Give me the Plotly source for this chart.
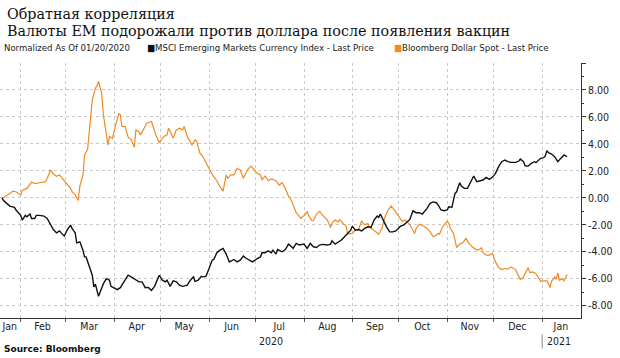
import datetime as dt
import plotly.graph_objects as go

# ---------------- data ----------------
BASE = "2020-01-20"  # normalisation date; offsets are days after it

usd_days = [0, 2, 5, 7, 9, 12, 13, 16, 19, 21, 24, 28, 30, 31, 33, 35, 37, 39, 42, 44,
            45, 47, 49, 50, 52, 53, 55, 57, 58, 60, 61, 62, 64, 65, 67, 68, 69, 71, 73, 74,
            75, 76, 77, 79, 81, 83, 85, 86, 88, 89, 91, 93, 96, 97, 99, 101, 104, 106, 107, 110,
            112, 114, 116, 117, 119, 122, 124, 125, 127, 129, 131, 134, 136, 138, 140, 142, 144, 145, 147, 149,
            151, 153, 155, 157, 158, 160, 161, 164, 166, 167, 169, 171, 173, 176, 178, 180, 182, 184, 185, 187,
            189, 192, 195, 196, 197, 199, 200, 202, 204, 206, 209, 211, 212, 214, 216, 217, 219, 221, 222, 225,
            227, 229, 231, 233, 235, 236, 239, 240, 242, 244, 246, 248, 250, 252, 255, 257, 259, 260, 262, 265,
            266, 268, 271, 273, 275, 277, 279, 280, 281, 283, 285, 286, 287, 288, 290, 291, 292, 294, 296, 298,
            300, 302, 304, 306, 308, 309, 311, 313, 315, 317, 319, 321, 323, 325, 327, 330, 331, 333, 335, 336,
            338, 339, 341, 343, 346, 348, 350, 351, 352, 353, 355, 356, 357, 358, 360, 361, 363]
usd_vals = [0.00, 0.10, 0.33, 0.50, 0.45, 0.20, 0.55, 0.70, 1.17, 1.05, 1.12, 1.20, 1.70, 2.07, 1.77, 1.60, 1.70, 1.40, 0.95, 0.70,
            0.45, 0.20, -0.20, 0.88, 1.70, 3.18, 3.60, 5.78, 7.27, 8.14, 8.30, 8.63, 7.77, 6.28, 4.80, 3.93, 4.55, 4.42, 5.41, 5.78,
            6.23, 6.15, 5.29, 5.29, 4.50, 4.30, 3.75, 5.04, 4.90, 4.67, 5.17, 5.54, 5.66, 5.29, 4.60, 4.12, 4.55, 4.67, 5.17, 4.42,
            5.04, 5.17, 5.04, 5.29, 4.55, 3.93, 4.30, 4.22, 3.35, 3.06, 2.56, 1.94, 1.57, 1.27, 0.83, 0.50, 1.70, 1.45, 1.70, 1.70,
            2.19, 2.07, 1.45, 2.00, 2.14, 2.36, 2.24, 1.82, 1.70, 1.32, 1.62, 1.27, 1.40, 1.27, 0.95, 1.12, 0.70, 0.13, 0.04, -0.54,
            -1.10, -1.53, -1.20, -1.00, -1.30, -1.70, -1.70, -1.20, -1.00, -1.30, -1.65, -2.20, -1.85, -1.65, -1.78, -1.60, -1.90, -2.07, -2.69, -2.64,
            -2.40, -2.35, -1.73, -2.00, -1.90, -2.15, -2.40, -2.52, -2.69, -2.27, -1.40, -0.90, -0.61, -0.90, -1.40, -1.73, -1.65, -1.78, -1.98, -2.64,
            -2.27, -1.95, -2.10, -2.27, -2.52, -2.89, -2.77, -2.64, -2.69, -2.15, -1.83, -1.73, -1.90, -2.27, -2.64, -3.26, -3.68, -3.43, -3.33, -3.01,
            -3.38, -3.63, -3.80, -3.88, -3.70, -4.07, -4.25, -4.25, -4.12, -4.75, -5.17, -5.32, -5.24, -5.29, -5.12, -5.32, -5.62, -6.06, -5.86, -5.62,
            -5.17, -5.54, -5.49, -5.62, -6.19, -6.16, -6.16, -6.36, -6.66, -6.19, -5.86, -6.06, -5.57, -6.11, -5.99, -6.16, -5.69]

em_days = [0, 1, 3, 5, 8, 9, 12, 13, 15, 16, 18, 19, 21, 22, 24, 27, 29, 31, 33, 35,
           37, 38, 40, 42, 44, 45, 47, 48, 50, 52, 53, 54, 56, 58, 59, 60, 61, 62, 64, 65,
           67, 69, 70, 72, 74, 76, 78, 79, 81, 83, 85, 88, 90, 92, 94, 96, 98, 100, 101, 103,
           105, 106, 108, 110, 112, 114, 116, 119, 121, 123, 124, 126, 128, 129, 131, 133, 135, 136, 138, 140,
           142, 144, 146, 149, 151, 153, 155, 157, 159, 161, 164, 166, 167, 169, 171, 173, 174, 176, 177, 180,
           182, 184, 186, 187, 189, 191, 194, 196, 198, 200, 202, 204, 206, 209, 211, 212, 214, 216, 218, 220,
           222, 224, 225, 227, 229, 231, 233, 235, 237, 239, 241, 242, 243, 245, 247, 249, 251, 253, 256, 258,
           260, 262, 264, 266, 268, 270, 273, 275, 277, 279, 280, 282, 284, 286, 287, 289, 290, 291, 292, 294,
           295, 297, 299, 301, 302, 303, 305, 307, 309, 311, 313, 315, 317, 319, 321, 323, 325, 327, 330, 332,
           333, 335, 336, 338, 340, 342, 343, 346, 348, 349, 350, 351, 353, 355, 356, 357, 359, 361, 362, 363]
em_vals = [0.00, -0.20, -0.41, -0.61, -0.70, -0.90, -1.30, -1.65, -1.30, -1.40, -1.20, -1.53, -1.53, -1.30, -1.30, -1.35, -1.53, -1.90, -2.35, -2.60,
           -2.45, -2.60, -2.84, -2.35, -2.02, -2.27, -2.60, -3.34, -3.26, -3.88, -4.38, -4.38, -5.12, -5.74, -6.61, -6.40, -6.86, -7.30, -6.70, -6.40,
           -5.99, -6.11, -6.56, -6.66, -6.81, -6.66, -6.28, -6.11, -5.74, -5.86, -5.99, -6.23, -6.23, -6.66, -6.64, -6.86, -6.56, -5.99, -5.74, -6.11,
           -6.23, -6.11, -6.56, -6.16, -6.23, -6.48, -6.56, -6.48, -6.11, -5.86, -6.19, -6.11, -5.82, -5.86, -5.82, -5.24, -4.62, -4.57, -4.07, -3.88,
           -3.75, -4.17, -4.75, -4.57, -4.75, -4.62, -4.32, -4.50, -4.62, -4.75, -4.50, -4.38, -4.05, -4.07, -3.93, -4.07, -3.88, -4.17, -3.83, -4.00,
           -3.83, -3.43, -3.63, -3.75, -3.38, -3.50, -3.43, -3.75, -3.38, -3.63, -3.68, -3.50, -3.45, -3.50, -3.43, -3.18, -3.43, -3.26, -3.13, -2.89,
           -2.64, -2.40, -2.10, -2.40, -2.35, -2.45, -2.27, -2.15, -2.20, -1.65, -1.35, -1.45, -1.20, -1.70, -2.15, -2.52, -2.52, -2.45, -2.10, -2.02,
           -1.78, -1.60, -0.96, -1.10, -1.10, -1.20, -0.78, -0.41, -0.30, -0.36, -0.50, -0.90, -0.96, -0.90, -0.66, -0.70, -0.17, 0.33, 0.45, 1.12,
           0.88, 0.70, 0.70, 1.20, 1.45, 1.62, 1.20, 1.27, 1.32, 1.52, 1.37, 1.52, 1.82, 2.31, 2.68, 2.80, 2.68, 2.63, 2.63, 2.73,
           2.88, 2.68, 2.38, 2.36, 2.56, 2.68, 2.61, 2.93, 2.98, 3.11, 3.50, 3.35, 3.25, 3.06, 2.86, 2.68, 2.93, 3.18, 3.11, 3.06]

month_starts = ["2020-02-01", "2020-03-01", "2020-04-01", "2020-05-01", "2020-06-01", "2020-07-01",
                "2020-08-01", "2020-09-01", "2020-10-01", "2020-11-01", "2020-12-01", "2021-01-01"]
month_label_dates = ["2020-01-25", "2020-02-15", "2020-03-16", "2020-04-15 12:00", "2020-05-16",
                     "2020-06-15 12:00", "2020-07-16", "2020-08-16", "2020-09-15 12:00", "2020-10-16",
                     "2020-11-15 12:00", "2020-12-16", "2021-01-13"]
month_labels = ["Jan", "Feb", "Mar", "Apr", "May", "Jun", "Jul", "Aug", "Sep", "Oct", "Nov", "Dec", "Jan"]
year_label_dates = ["2020-07-11", "2021-01-12"]
year_labels = ["2020", "2021"]

y_major = [-8, -6, -4, -2, 0, 2, 4, 6, 8, 10]
y_major_text = ["-8.00", "-6.00", "-4.00", "-2.00", "0.00", "2.00", "4.00", "6.00", "8.00", ""]
y_minor = [-7, -5, -3, -1, 1, 3, 5, 7, 9]

TITLE1 = "Обратная корреляция"
TITLE2 = "Валюты EM подорожали против доллара после появления вакцин"
EM_NAME = "MSCI Emerging Markets Currency Index - Last Price"
USD_NAME = "Bloomberg Dollar Spot - Last Price"
NOTE = "Normalized As Of 01/20/2020"
SOURCE = "Source: Bloomberg"

# ---------------- figure ----------------
base = dt.datetime.fromisoformat(BASE)
usd_x = [base + dt.timedelta(days=d) for d in usd_days]
em_x = [base + dt.timedelta(days=d) for d in em_days]

BLACK = "#111111"
ORANGE = "#f08a24"
SMALL = "DejaVu Sans Condensed, Liberation Sans Narrow, Roboto Condensed, DejaVu Sans, sans-serif"

fig = go.Figure()
fig.add_trace(go.Scatter(x=usd_x, y=usd_vals, mode="lines", name=USD_NAME,
                         line=dict(color=ORANGE, width=1.2)))
fig.add_trace(go.Scatter(x=em_x, y=em_vals, mode="lines", name=EM_NAME,
                         line=dict(color=BLACK, width=1.4)))
# invisible trace to carry the label axis
fig.add_trace(go.Scatter(x=[month_label_dates[0]], y=[None], xaxis="x2", showlegend=False,
                         hoverinfo="skip"))

xr = ["2020-01-18 17:00", "2021-01-25 22:00"]
fig.update_layout(
    width=620, height=358,
    margin=dict(l=0, r=39, t=63, b=40),
    paper_bgcolor="white", plot_bgcolor="white",
    showlegend=False,
    xaxis=dict(type="date", range=xr, tickmode="array", tickvals=month_starts,
               showticklabels=False, ticks="outside", ticklen=3, tickcolor="#555555",
               showgrid=True, gridcolor="#c9c9c9", griddash="dot", gridwidth=1,
               showline=True, linecolor="#333333", linewidth=1, zeroline=False),
    xaxis2=dict(type="date", range=xr, overlaying="x", side="bottom", tickmode="array",
                tickvals=month_label_dates, ticktext=month_labels, ticks="", showgrid=False,
                showline=False, zeroline=False,
                tickfont=dict(family=SMALL, size=10.5, color="#222222")),
    yaxis=dict(range=[-8.91, 10.0], side="right", tickmode="array", tickvals=y_major,
               ticktext=y_major_text, ticks="outside", ticklen=4, tickcolor="#333333",
               showgrid=True, gridcolor="#c9c9c9", griddash="dot", gridwidth=1,
               showline=True, linecolor="#333333", linewidth=1, zeroline=False,
               tickfont=dict(family=SMALL, size=10.5, color="#222222"),
               minor=dict(tickmode="array", tickvals=y_minor, ticks="outside", ticklen=2,
                          tickcolor="#333333", showgrid=False)),
)

P = 254.7
W = 581.0
def py(p):
    return (317.7 - p) / P

legend_items = [
    (NOTE, 1.7),
    ("<span style='color:%s'>■</span>%s" % (BLACK, EM_NAME), 145.0),
    ("<span style='color:%s'>■</span>%s" % (ORANGE, USD_NAME), 391.5),
]
for txt, px in legend_items:
    fig.add_annotation(text=txt, xref="paper", yref="paper", x=px / W, y=py(48),
                       xanchor="left", yanchor="middle", showarrow=False,
                       font=dict(family=SMALL, size=9.5, color="#222222"))

fig.add_annotation(text=TITLE1, xref="paper", yref="paper", x=0.009, y=py(14),
                   xanchor="left", yanchor="middle", showarrow=False,
                   font=dict(family="DejaVu Serif, serif", size=14.3, color="#111111"))
fig.add_annotation(text=TITLE2, xref="paper", yref="paper", x=0.009, y=py(31),
                   xanchor="left", yanchor="middle", showarrow=False,
                   font=dict(family="DejaVu Serif, serif", size=14.3, color="#111111"))
fig.add_annotation(text="<b>" + SOURCE + "</b>", xref="paper", yref="paper", x=0.004, y=py(349),
                   xanchor="left", yanchor="middle", showarrow=False,
                   font=dict(family="DejaVu Sans, sans-serif", size=9, color="#111111"))
for d, t in zip(year_label_dates, year_labels):
    fig.add_annotation(text=t, xref="x", yref="paper", x=d, y=py(341),
                       xanchor="center", yanchor="middle", showarrow=False,
                       font=dict(family=SMALL, size=10.5, color="#222222"))
fig.add_shape(type="line", xref="x", yref="paper", x0=month_starts[-1], x1=month_starts[-1],
              y0=py(334), y1=py(348), line=dict(color="#888888", width=1))

fig.write_html("out.html", config={"displayModeBar": False},
               post_script="document.body.style.margin='0';document.body.style.padding='0';")
